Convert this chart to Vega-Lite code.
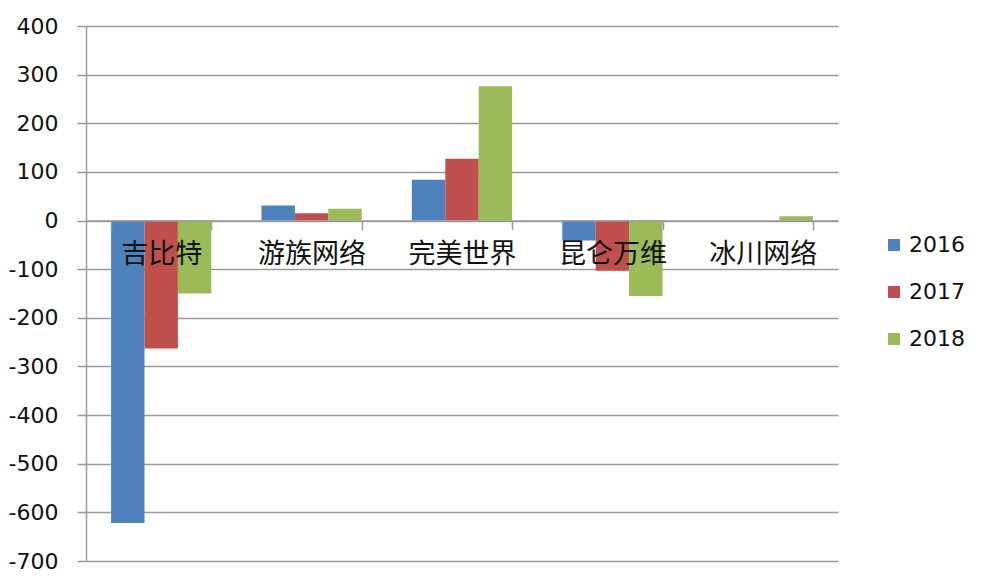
{
  "$schema": "https://vega.github.io/schema/vega-lite/v6.json",
  "width": 752,
  "height": 535,
  "autosize": {"type": "none"},
  "padding": {"left": 86, "top": 26, "right": 147, "bottom": 20},
  "background": "white",
  "data": {
    "values": [
      {"company": "吉比特", "year": "2016", "value": -622},
      {"company": "吉比特", "year": "2017", "value": -263},
      {"company": "吉比特", "year": "2018", "value": -150},
      {"company": "游族网络", "year": "2016", "value": 31},
      {"company": "游族网络", "year": "2017", "value": 15},
      {"company": "游族网络", "year": "2018", "value": 24},
      {"company": "完美世界", "year": "2016", "value": 84},
      {"company": "完美世界", "year": "2017", "value": 127},
      {"company": "完美世界", "year": "2018", "value": 276},
      {"company": "昆仑万维", "year": "2016", "value": -41},
      {"company": "昆仑万维", "year": "2017", "value": -103},
      {"company": "昆仑万维", "year": "2018", "value": -155},
      {"company": "冰川网络", "year": "2016", "value": 0},
      {"company": "冰川网络", "year": "2017", "value": 0},
      {"company": "冰川网络", "year": "2018", "value": 9}
    ]
  },
  "mark": {"type": "bar"},
  "encoding": {
    "x": {
      "field": "company",
      "type": "nominal",
      "sort": ["吉比特", "游族网络", "完美世界", "昆仑万维", "冰川网络"],
      "scale": {"paddingInner": 0.3333, "paddingOuter": 0.1667},
      "axis": {
        "title": null,
        "orient": "bottom",
        "offset": -340.5,
        "tickBand": "extent",
        "tickSize": 9,
        "tickColor": "#9a9a9a",
        "tickWidth": 1.5,
        "domainColor": "#9a9a9a",
        "domainWidth": 1.5,
        "labelAngle": 0,
        "labelFont": "Noto Sans CJK SC",
        "labelFontSize": 27,
        "labelColor": "#111111",
        "labelPadding": 12,
        "zindex": 1,
        "grid": false
      }
    },
    "xOffset": {
      "field": "year",
      "type": "nominal",
      "scale": {"paddingInner": 0, "paddingOuter": 0}
    },
    "y": {
      "field": "value",
      "type": "quantitative",
      "scale": {"domain": [-700, 400], "nice": false, "zero": false},
      "axis": {
        "title": null,
        "values": [-700, -600, -500, -400, -300, -200, -100, 0, 100, 200, 300, 400],
        "labelExpr": "toString(datum.value)",
        "tickSize": 9,
        "tickColor": "#9a9a9a",
        "tickWidth": 1.5,
        "domainColor": "#9a9a9a",
        "domainWidth": 1.5,
        "gridColor": "#9a9a9a",
        "gridWidth": 1.5,
        "labelFont": "DejaVu Sans",
        "labelFontSize": 22,
        "labelColor": "#111111",
        "labelPadding": 19
      }
    },
    "color": {
      "field": "year",
      "type": "nominal",
      "scale": {"domain": ["2016", "2017", "2018"], "range": ["#4F81BD", "#C0504D", "#9BBB59"]},
      "legend": {
        "title": null,
        "orient": "none",
        "legendX": 797,
        "legendY": 208,
        "symbolType": "square",
        "symbolSize": 144,
        "symbolStrokeWidth": 0,
        "labelFont": "DejaVu Sans",
        "labelFontSize": 22,
        "labelColor": "#111111",
        "labelOffset": 4,
        "rowPadding": 25,
        "padding": 0
      }
    }
  },
  "config": {"view": {"stroke": null}}
}
